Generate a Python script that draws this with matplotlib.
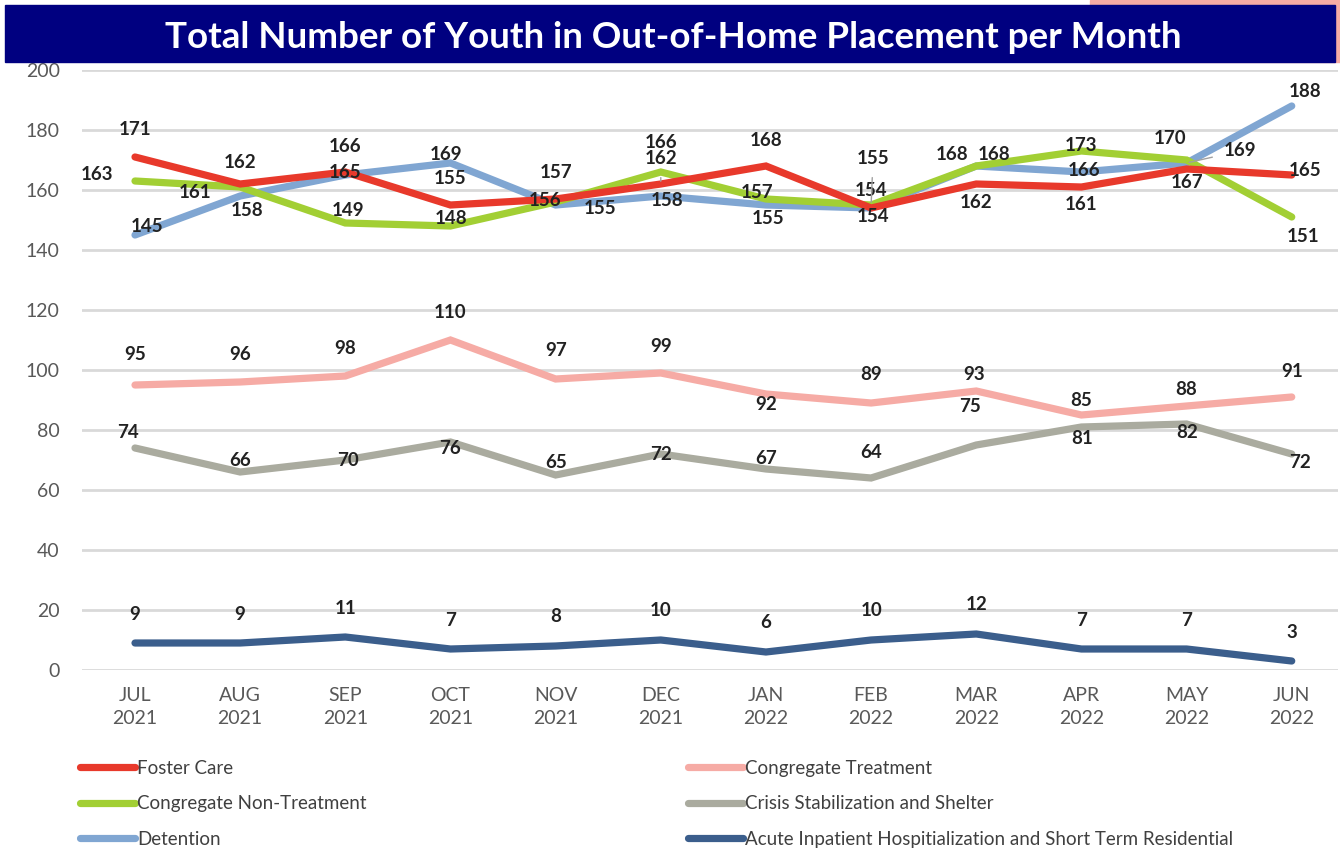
import matplotlib.pyplot as plt
from matplotlib.lines import Line2D
from matplotlib.patches import Rectangle

plt.rcParams['font.family'] = ['Lato', 'DejaVu Sans']

# ---- data ----
months = ['JUL\n2021', 'AUG\n2021', 'SEP\n2021', 'OCT\n2021', 'NOV\n2021', 'DEC\n2021',
          'JAN\n2022', 'FEB\n2022', 'MAR\n2022', 'APR\n2022', 'MAY\n2022', 'JUN\n2022']
foster = [171, 162, 166, 155, 157, 162, 168, 154, 162, 161, 167, 165]
cong_nontreat = [163, 161, 149, 148, 156, 166, 157, 155, 168, 173, 170, 151]
detention = [145, 158, 165, 169, 155, 158, 155, 154, 168, 166, 169, 188]
cong_treat = [95, 96, 98, 110, 97, 99, 92, 89, 93, 85, 88, 91]
crisis = [74, 66, 70, 76, 65, 72, 67, 64, 75, 81, 82, 72]
acute = [9, 9, 11, 7, 8, 10, 6, 10, 12, 7, 7, 3]

names = ['Foster Care', 'Congregate Non-Treatment', 'Detention',
         'Congregate Treatment', 'Crisis Stabilization and Shelter',
         'Acute Inpatient Hospitialization and Short Term Residential']
colors = ['#E8392B', '#A2CF34', '#80A6D2', '#F6ABA5', '#AAAB9F', '#3B5E8C']
series = [foster, cong_nontreat, detention, cong_treat, crisis, acute]

# label offsets in pixels (dx, dy), dy positive = up
offs = {
    0: [(0, 27), (0, 22), (0, 26), (0, 27), (0, 27), (0, 26), (0, 26), (0, 17), (0, -18), (0, -17), (0, -13), (13, 5)],
    1: [(-38, 7), (-45, -6), (3, 13), (1, 8), (-11, 2), (0, 30), (-9, 7), (2, 47), (18, 11), (0, 5), (-17, 21), (11, -19)],
    2: [(12, 8), (7, -14), (0, 3), (-4, 9), (44, -3), (6, -4), (2, -13), (2, -9), (-24, 11), (3, 2), (53, 12), (13, 14)],
    3: [(0, 30), (0, 27), (0, 27), (0, 27), (0, 28), (0, 26), (0, -11), (0, 28), (-2, 16), (0, 15), (0, 16), (0, 25)],
    4: [(-7, 15), (0, 12), (3, 0), (0, -7), (0, 13), (0, 0), (0, 11), (0, 26), (-6, 39), (1, -11), (1, -8), (8, -8)],
    5: [(0, 29)] * 12,
}
leaders = {(0, 5), (1, 7), (2, 10)}

fig = plt.figure(figsize=(13.4, 8.5), dpi=100)
ax = fig.add_axes([82 / 1340, 180 / 850, 1256 / 1340, 600 / 850])

x = list(range(len(months)))
for i, (vals, col) in enumerate(zip(series, colors)):
    ax.plot(x, vals, color=col, lw=5.2, solid_joinstyle='miter', solid_capstyle='round',
            zorder=3 + (5 - i) * 0.1)

for i, vals in enumerate(series):
    for j, v in enumerate(vals):
        dx, dy = offs[i][j]
        kw = {}
        if (i, j) in leaders:
            kw['arrowprops'] = dict(arrowstyle='-', color='#A0A0A0', lw=1, shrinkA=6, shrinkB=2)
        ax.annotate(str(v), (j, v), xytext=(dx, dy), textcoords='offset pixels',
                    ha='center', va='center', fontsize=13.5, fontweight='bold',
                    color='#222222', zorder=10, **kw)

ax.set_xlim(-0.504, 11.44)
ax.set_ylim(0, 200)
ax.set_yticks(range(0, 201, 20))
ax.set_xticks(x)
ax.set_xticklabels(months, fontsize=14, color='#595959', linespacing=1.45)
ax.tick_params(axis='y', length=0, pad=16, labelsize=14, labelcolor='#595959')
ax.tick_params(axis='x', length=0, pad=12)
ax.grid(axis='y', color='#D9D9D9', lw=2)
ax.set_axisbelow(True)
for s in ax.spines.values():
    s.set_visible(False)

# title banner
fig.patches.append(Rectangle((1090 / 1340, 1 - 62 / 850), 250 / 1340, 62 / 850,
                             transform=fig.transFigure, color='#F6ABA5', zorder=0))
fig.patches.append(Rectangle((5 / 1340, 1 - 62 / 850), 1330 / 1340, 57 / 850,
                             transform=fig.transFigure, color='#000080', zorder=1))
fig.text(673 / 1340, 1 - 37 / 850, 'Total Number of Youth in Out-of-Home Placement per Month',
         ha='center', va='center', color='white', fontsize=26.5, fontweight='bold')

# legend
handles = [Line2D([], [], color=c, lw=5.2, solid_capstyle='round') for c in colors]
for k, xl in ((0, 80), (3, 688)):
    fig.legend(handles[k:k + 3], names[k:k + 3], loc='upper left',
               bbox_to_anchor=(xl / 1340, 1 - 760 / 850),
               frameon=False, fontsize=13.5, labelcolor='#404040', handlelength=2.95,
               handletextpad=0.1, labelspacing=0.98, borderaxespad=0, borderpad=0)

fig.savefig('out.png', dpi=100)
